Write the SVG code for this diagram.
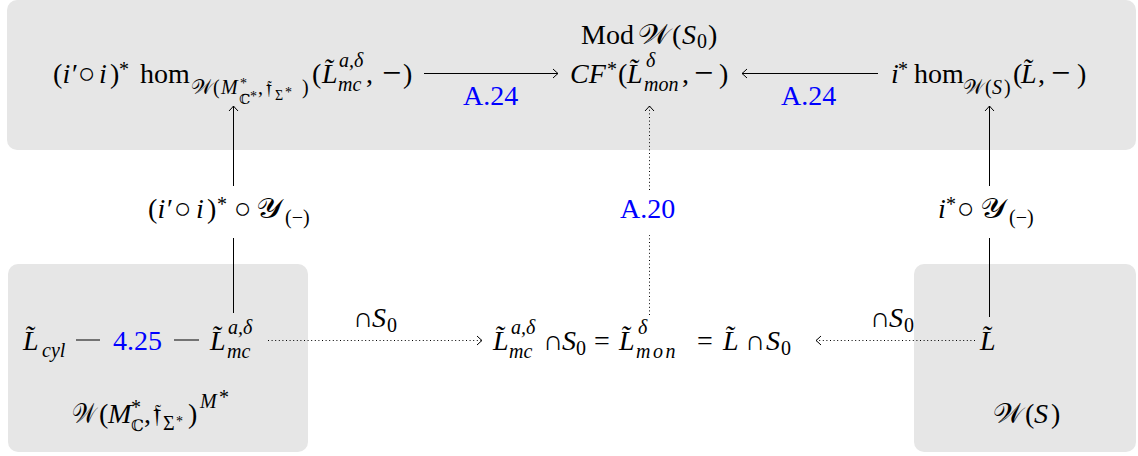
<svg xmlns="http://www.w3.org/2000/svg" width="1138" height="456" viewBox="0 0 1138 456">
<style>
.m{font-family:"Liberation Serif","DejaVu Serif",serif;font-size:28px;fill:#000}
.i{font-style:italic}
.s20{font-size:20px}
.s16{font-size:16px}
.s14{font-size:14px}
.o{font-size:29px}
.mn{font-size:34px}
.cal{font-family:"DejaVu Serif","DejaVu Sans","Noto Sans",serif;font-style:normal}
.lbl{fill:#0000ff}
.ln{stroke:#000;stroke-width:1;fill:none}
.dot{stroke-dasharray:1 2.6}
.box{fill:#e6e6e6}
</style>
<defs>
<marker id="ah" viewBox="-7 -6 9 12" refX="0" refY="0" markerWidth="9" markerHeight="12" markerUnits="userSpaceOnUse" orient="auto">
<path d="M-5,-4.5 Q-1.5,-1.2 0,0 Q-1.5,1.2 -5,4.5" fill="none" stroke="#000" stroke-width="1"/>
</marker>
</defs>
<g id="boxes">
<rect class="box" x="7" y="0" width="1129" height="150" rx="10"/>
<rect class="box" x="8" y="264" width="300" height="188" rx="10"/>
<rect class="box" x="914" y="264" width="222" height="188" rx="10"/>
</g>
<g id="connectors">
<line class="ln" x1="424" y1="73.5" x2="558" y2="73.5" marker-end="url(#ah)"/>
<line class="ln" x1="878" y1="73.5" x2="742" y2="73.5" marker-end="url(#ah)"/>
<line class="ln" x1="233.5" y1="313" x2="233.5" y2="238"/>
<line class="ln" x1="233.5" y1="186" x2="233.5" y2="106" marker-end="url(#ah)"/>
<line class="ln dot" x1="649.5" y1="315" x2="649.5" y2="235"/>
<line class="ln dot" x1="649.5" y1="190" x2="649.5" y2="106" marker-end="url(#ah)"/>
<line class="ln" x1="989.5" y1="317" x2="989.5" y2="238"/>
<line class="ln" x1="989.5" y1="186" x2="989.5" y2="106" marker-end="url(#ah)"/>
<line class="ln" x1="76" y1="340" x2="100" y2="340" stroke-width="1.3"/>
<line class="ln" x1="174" y1="340" x2="199" y2="340" stroke-width="1.3"/>
<line class="ln dot" x1="268" y1="340.5" x2="482" y2="340.5" marker-end="url(#ah)"/>
<line class="ln dot" x1="975" y1="340.5" x2="816" y2="340.5" marker-end="url(#ah)"/>
<text class="m lbl" x="463" y="105">A.24</text>
<text class="m lbl" x="781" y="105">A.24</text>
<text class="m lbl" x="620" y="218">A.20</text>
<text class="m lbl" x="113" y="350">4.25</text>
<text class="m"><tspan x="148" y="218">(</tspan><tspan class="i" x="157.5" y="218">i′</tspan><tspan class="o" x="174" y="218">○</tspan><tspan class="i" x="196" y="218">i</tspan><tspan x="207" y="218">)</tspan><tspan class="s20" x="217" y="211">*</tspan><tspan class="o" x="234" y="218">○</tspan><tspan class="cal" x="256" y="218" textLength="26" lengthAdjust="spacingAndGlyphs">𝒴</tspan><tspan class="s20" x="285" y="224">(−)</tspan></text>
<text class="m"><tspan class="i" x="938" y="218">i</tspan><tspan class="s20" x="946" y="211">*</tspan><tspan class="o" x="957" y="218">○</tspan><tspan class="cal" x="980" y="218" textLength="26" lengthAdjust="spacingAndGlyphs">𝒴</tspan><tspan class="s20" x="1009" y="224">(−)</tspan></text>
<text class="m"><tspan x="353" y="327">∩</tspan><tspan class="i" x="372" y="327">S</tspan><tspan class="s20" x="387" y="332">0</tspan></text>
<text class="m"><tspan x="870" y="327">∩</tspan><tspan class="i" x="889" y="327">S</tspan><tspan class="s20" x="904" y="332">0</tspan></text>
</g>
<g id="n-hom-left">
<text class="m"><tspan x="53" y="83">(</tspan><tspan class="i" x="62.5" y="83">i′</tspan><tspan class="o" x="78" y="83">○</tspan><tspan class="i" x="99" y="83">i</tspan><tspan x="110" y="83">)</tspan><tspan class="s20" x="119" y="76">*</tspan><tspan x="140" y="83">hom</tspan><tspan class="s20 cal" x="191" y="94" textLength="22" lengthAdjust="spacingAndGlyphs">𝒲</tspan><tspan class="s20" x="213" y="94">(</tspan><tspan class="s20 i" x="221" y="94">M</tspan><tspan class="s14" x="240" y="88">*</tspan><tspan class="s14 cal" x="239" y="104">ℂ</tspan><tspan class="s14" x="250" y="101">*</tspan><tspan class="s20" x="258" y="94">,</tspan><tspan class="s20 cal" x="266" y="94">𝔣</tspan><tspan class="s14" x="275" y="100">Σ</tspan><tspan class="s14" x="285" y="97">*</tspan><tspan class="s20" x="302" y="94">)</tspan><tspan x="312" y="83">(</tspan><tspan class="i" x="322" y="83">L̃</tspan><tspan class="s20 i" x="339" y="67">a,δ</tspan><tspan class="s20 i" x="338" y="91">mc</tspan><tspan x="366" y="83">,</tspan><tspan class="mn" x="382" y="84">−</tspan><tspan x="403" y="83">)</tspan></text>
</g>
<g id="n-mod">
<text class="m"><tspan x="581" y="44">Mod</tspan><tspan class="cal" x="638" y="44" textLength="32" lengthAdjust="spacingAndGlyphs">𝒲</tspan><tspan x="672" y="44">(</tspan><tspan class="i" x="682" y="44">S</tspan><tspan class="s20" x="697" y="48">0</tspan><tspan x="708" y="44">)</tspan></text>
<text class="m"><tspan class="i" x="570" y="83">CF</tspan><tspan class="s20" x="607" y="76">*</tspan><tspan x="618" y="83">(</tspan><tspan class="i" x="627" y="83">L̃</tspan><tspan class="s20 i" x="646" y="67">δ</tspan><tspan class="s20 i" x="644" y="91">mon</tspan><tspan x="682" y="83">,</tspan><tspan class="mn" x="694" y="84">−</tspan><tspan x="719" y="83">)</tspan></text>
</g>
<g id="n-hom-right">
<text class="m"><tspan class="i" x="891" y="83">i</tspan><tspan class="s20" x="898" y="76">*</tspan><tspan x="914" y="83">hom</tspan><tspan class="s20 cal" x="963" y="94" textLength="21" lengthAdjust="spacingAndGlyphs">𝒲</tspan><tspan class="s20" x="985" y="94">(</tspan><tspan class="s20 i" x="992" y="94">S</tspan><tspan class="s20" x="1004" y="94">)</tspan><tspan x="1013" y="83">(</tspan><tspan class="i" x="1021" y="83">L̃</tspan><tspan x="1038" y="83">,</tspan><tspan class="mn" x="1051" y="84">−</tspan><tspan x="1077" y="83">)</tspan></text>
</g>
<g id="n-lcyl">
<text class="m"><tspan class="i" x="23" y="350">L̃</tspan><tspan class="s20 i" x="42" y="357">cyl</tspan></text>
</g>
<g id="n-lmc">
<text class="m"><tspan class="i" x="210" y="350">L̃</tspan><tspan class="s20 i" x="228" y="334">a,δ</tspan><tspan class="s20 i" x="227" y="358">mc</tspan></text>
</g>
<g id="n-box-left-label">
<text class="m"><tspan class="cal" x="72" y="423" textLength="24" lengthAdjust="spacingAndGlyphs">𝒲</tspan><tspan x="99" y="423">(</tspan><tspan class="i" x="108" y="423">M</tspan><tspan class="s20" x="131" y="414">*</tspan><tspan class="s16 cal" x="131" y="431">ℂ</tspan><tspan x="144" y="423">,</tspan><tspan class="cal" x="153" y="423">𝔣</tspan><tspan class="s20" x="163" y="430">Σ</tspan><tspan class="s14" x="176" y="426">*</tspan><tspan x="188" y="423">)</tspan><tspan class="s20 i" x="200" y="408">M</tspan><tspan class="s20" x="219" y="404">*</tspan></text>
</g>
<g id="n-mid">
<text class="m"><tspan class="i" x="493" y="350">L̃</tspan><tspan class="s20 i" x="511" y="334">a,δ</tspan><tspan class="s20 i" x="509" y="358">mc</tspan><tspan x="543" y="350">∩</tspan><tspan class="i" x="562" y="350">S</tspan><tspan class="s20" x="576" y="355">0</tspan><tspan x="594" y="350">=</tspan><tspan class="i" x="619" y="350">L̃</tspan><tspan class="s20 i" x="638" y="334">δ</tspan><tspan class="s20 i" x="636" y="358" letter-spacing="2.5" font-size="22">mon</tspan><tspan x="697" y="350">=</tspan><tspan class="i" x="723" y="350">L̃</tspan><tspan x="745" y="350">∩</tspan><tspan class="i" x="766" y="350">S</tspan><tspan class="s20" x="781" y="355">0</tspan></text>
</g>
<g id="n-l">
<text class="m"><tspan class="i" x="980" y="350">L̃</tspan></text>
</g>
<g id="n-box-right-label">
<text class="m"><tspan class="cal" x="993" y="423" textLength="30" lengthAdjust="spacingAndGlyphs">𝒲</tspan><tspan x="1025" y="423">(</tspan><tspan class="i" x="1034" y="423">S</tspan><tspan x="1051" y="423">)</tspan></text>
</g>
</svg>
